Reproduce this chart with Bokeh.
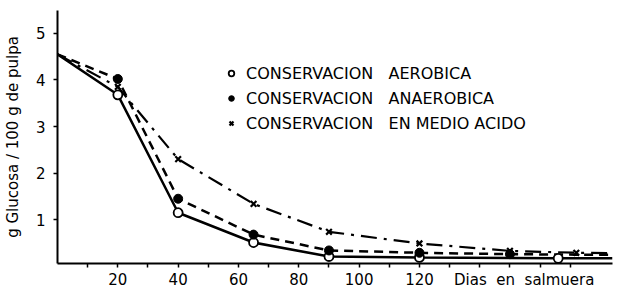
from bokeh.plotting import figure
from bokeh.models import FixedTicker, Legend, LegendItem, Range1d
from bokeh.embed import file_html
from bokeh.resources import INLINE

# line paths (days, g glucose / 100 g pulp)
aer_line_x = [0, 20, 40, 65, 90, 120, 166, 184]
aer_line_y = [4.55, 3.68, 1.15, 0.51, 0.21, 0.19, 0.17, 0.17]
ana_line_x = [0, 20, 40, 65, 90, 120, 150, 172, 184]
ana_line_y = [4.55, 4.02, 1.45, 0.68, 0.34, 0.29, 0.26, 0.25, 0.25]
aci_line_x = [0, 20, 40, 65, 90, 120, 150, 172, 184]
aci_line_y = [4.55, 3.85, 2.30, 1.34, 0.74, 0.49, 0.33, 0.29, 0.28]

# measured points (markers)
aer_x = [20, 40, 65, 90, 120, 166]
aer_y = [3.68, 1.15, 0.51, 0.21, 0.19, 0.17]
ana_x = [20, 40, 65, 90, 120, 150]
ana_y = [4.02, 1.45, 0.68, 0.34, 0.29, 0.26]
aci_x = [20, 40, 65, 90, 120, 150, 172]
aci_y = [3.85, 2.30, 1.34, 0.74, 0.49, 0.33, 0.29]

NB = "\u00a0"
x_ticks = [10, 20, 30, 40, 50, 60, 70, 80, 90, 100, 110, 120, 130, 140, 150, 160, 170]
x_label_ticks = [20, 40, 60, 80, 100, 120, 150]
x_tick_labels = ["20", "40", "60", "80", "100", "120",
                 NB * 6 + "Dias" + NB * 2 + "en" + NB * 2 + "salmuera"]
y_ticks = [1, 2, 3, 4, 5]

legend_labels = ["CONSERVACION" + NB * 3 + "AEROBICA",
                 "CONSERVACION" + NB * 3 + "ANAEROBICA",
                 "CONSERVACION" + NB * 3 + "EN MEDIO ACIDO"]
y_title = "g Glucosa / 100 g de pulpa"

FONT = "DejaVu Sans"

p = figure(width=620, height=291, output_backend="svg", toolbar_location=None,
           x_range=Range1d(0, 184), y_range=Range1d(0.06, 5.49),
           min_border_left=51, min_border_right=8, min_border_top=10,
           min_border_bottom=20)
p.outline_line_color = None
p.xgrid.visible = False
p.ygrid.visible = False

# lines
p.line(aer_line_x, aer_line_y, line_color="black", line_width=2.5)
p.line(ana_line_x, ana_line_y, line_color="black", line_width=2.5, line_dash="9 6")
p.line(aci_line_x, aci_line_y, line_color="black", line_width=2.2, line_dash="16 7 3 7")

# markers
r_aer = p.scatter(aer_x, aer_y, marker="circle", size=9, fill_color="white",
                  line_color="black", line_width=1.8)
r_ana = p.scatter(ana_x, ana_y, marker="circle", size=9, fill_color="black",
                  line_color="black")
r_aci = p.scatter(aci_x, aci_y, marker="x", size=8, line_color="black", line_width=2.2)

legend = Legend(items=[LegendItem(label=legend_labels[0], renderers=[r_aer]),
                       LegendItem(label=legend_labels[1], renderers=[r_ana]),
                       LegendItem(label=legend_labels[2], renderers=[r_aci])],
                location=(167, 130), padding=0, margin=0, spacing=5,
                glyph_width=14, glyph_height=14, label_height=20,
                label_standoff=8, label_text_font=FONT,
                label_text_font_size="16px", label_text_color="black",
                border_line_color=None, background_fill_alpha=0)
p.add_layout(legend)

# axes
for ax in (p.xaxis[0], p.yaxis[0]):
    ax.axis_line_width = 2
    ax.axis_line_color = "black"
    ax.major_tick_line_width = 1.5
    ax.major_tick_line_color = "black"
    ax.major_tick_out = 4
    ax.major_tick_in = 0
    ax.minor_tick_line_color = None
    ax.major_label_text_font = FONT
    ax.major_label_text_font_size = "15px"
    ax.major_label_text_color = "black"

p.xaxis.ticker = FixedTicker(ticks=x_ticks)
overrides = {t: "" for t in x_ticks}
for t, lab in zip(x_label_ticks, x_tick_labels):
    overrides[t] = lab
p.xaxis.major_label_overrides = overrides
p.xaxis.major_label_standoff = 3

p.yaxis.ticker = FixedTicker(ticks=y_ticks)
p.yaxis.major_label_standoff = 8
p.yaxis.axis_label = y_title
p.yaxis.axis_label_text_font = FONT
p.yaxis.axis_label_text_font_size = "15px"
p.yaxis.axis_label_text_font_style = "normal"
p.yaxis.axis_label_text_color = "black"
p.yaxis.axis_label_standoff = 11

open("out.html", "w").write(file_html(p, INLINE))
